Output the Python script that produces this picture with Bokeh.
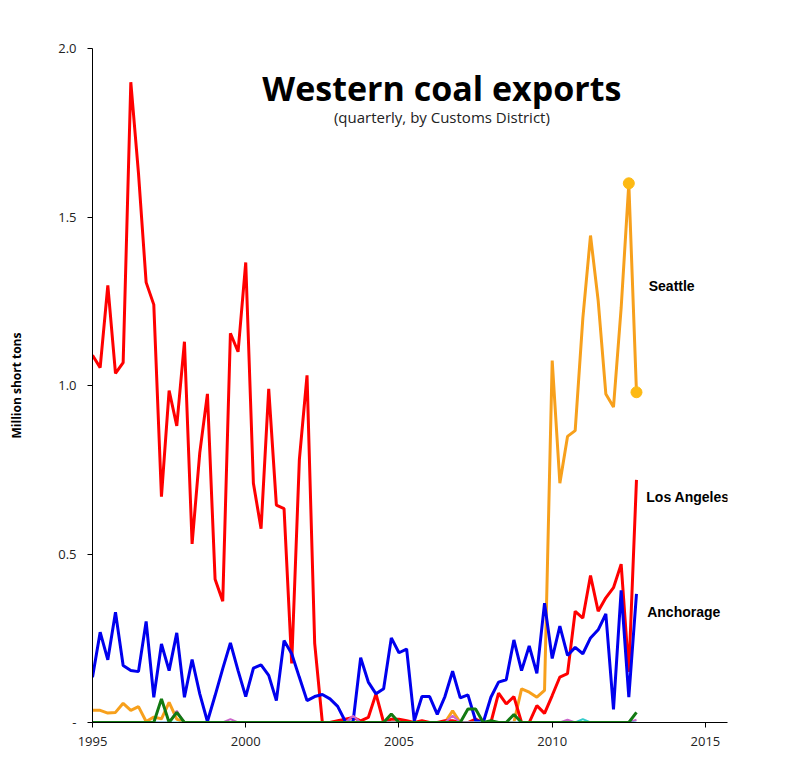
from bokeh.plotting import figure
from bokeh.models import Range1d, FixedTicker, Label
from bokeh.core.properties import value
from bokeh.embed import file_html
from bokeh.resources import INLINE

# quarterly positions 1995 Q1 .. 2012 Q4
years = list(range(1995, 2013))
quarter_x = [y + q / 4 for y in years for q in range(4)]

# Million short tons, one row per year (Q1..Q4)
seattle = [
    0.036, 0.036, 0.028, 0.030,   # 1995
    0.057, 0.036, 0.047, 0.003,   # 1996
    0.016, 0.011, 0.060, 0.010,   # 1997
    0.0, 0.0, 0.0, 0.0,           # 1998
    0.0, 0.0, 0.0, 0.0,           # 1999
    0.0, 0.0, 0.0, 0.0,           # 2000
    0.0, 0.0, 0.0, 0.0,           # 2001
    0.0, 0.0, 0.0, 0.0,           # 2002
    0.0, 0.0, 0.0, 0.0,           # 2003
    0.0, 0.0, 0.0, 0.0,           # 2004
    0.0, 0.0, 0.0, 0.0,           # 2005
    0.0, 0.0, 0.0, 0.035,         # 2006
    0.0, 0.0, 0.0, 0.0,           # 2007
    0.0, 0.0, 0.0, 0.0,           # 2008
    0.100, 0.090, 0.075, 0.095,   # 2009
    1.074, 0.710, 0.849, 0.866,   # 2010
    1.200, 1.445, 1.252, 0.975,   # 2011
    0.936, 1.230, 1.600, 0.980,   # 2012
]

los_angeles = [
    1.090, 1.053, 1.297, 1.036,   # 1995
    1.068, 1.900, 1.630, 1.306,   # 1996
    1.240, 0.670, 0.985, 0.880,   # 1997
    1.130, 0.530, 0.800, 0.975,   # 1998
    0.425, 0.360, 1.155, 1.100,   # 1999
    1.365, 0.710, 0.575, 0.990,   # 2000
    0.645, 0.635, 0.175, 0.780,   # 2001
    1.030, 0.235, 0.0, 0.0,       # 2002
    0.005, 0.010, 0.015, 0.005,   # 2003
    0.015, 0.085, 0.0, 0.010,     # 2004
    0.010, 0.005, 0.0, 0.005,     # 2005
    0.0, 0.0, 0.005, 0.005,       # 2006
    0.0, 0.0, 0.010, 0.0,         # 2007
    0.0, 0.087, 0.055, 0.077,     # 2008
    0.0, 0.0, 0.050, 0.027,       # 2009
    0.080, 0.135, 0.145, 0.330,   # 2010
    0.310, 0.436, 0.330, 0.370,   # 2011
    0.400, 0.470, 0.150, 0.720,   # 2012
]

anchorage = [
    0.134, 0.268, 0.186, 0.327,   # 1995
    0.169, 0.154, 0.151, 0.300,   # 1996
    0.075, 0.233, 0.154, 0.266,   # 1997
    0.075, 0.187, 0.085, 0.003,   # 1998
    0.080, 0.160, 0.236, 0.154,   # 1999
    0.077, 0.161, 0.171, 0.140,   # 2000
    0.065, 0.243, 0.204, 0.134,   # 2001
    0.065, 0.077, 0.083, 0.070,   # 2002
    0.048, 0.003, 0.0, 0.192,     # 2003
    0.120, 0.085, 0.100, 0.251,   # 2004
    0.207, 0.218, 0.005, 0.077,   # 2005
    0.077, 0.024, 0.077, 0.152,   # 2006
    0.073, 0.082, 0.006, 0.0,     # 2007
    0.075, 0.120, 0.127, 0.245,   # 2008
    0.154, 0.227, 0.146, 0.354,   # 2009
    0.190, 0.286, 0.199, 0.223,   # 2010
    0.204, 0.251, 0.275, 0.322,   # 2011
    0.039, 0.392, 0.075, 0.382,   # 2012
]

other_green = [
    0.0, 0.0, 0.0, 0.0,           # 1995
    0.0, 0.0, 0.0, 0.0,           # 1996
    0.0, 0.070, 0.0, 0.030,       # 1997
    0.0, 0.0, 0.0, 0.0,           # 1998
    0.0, 0.0, 0.0, 0.0,           # 1999
    0.0, 0.0, 0.0, 0.0,           # 2000
    0.0, 0.0, 0.0, 0.0,           # 2001
    0.0, 0.0, 0.0, 0.0,           # 2002
    0.0, 0.0, 0.0, 0.0,           # 2003
    0.0, 0.0, 0.0, 0.025,         # 2004
    0.0, 0.0, 0.0, 0.0,           # 2005
    0.0, 0.0, 0.0, 0.0,           # 2006
    0.0, 0.040, 0.040, 0.0,       # 2007
    0.005, 0.0, 0.0, 0.024,       # 2008
    0.0, 0.0, 0.0, 0.0,           # 2009
    0.0, 0.0, 0.0, 0.0,           # 2010
    0.0, 0.0, 0.0, 0.0,           # 2011
    0.0, 0.0, 0.0, 0.030,         # 2012
]

other_pink = [
    0.0, 0.0, 0.0, 0.0,           # 1995
    0.0, 0.0, 0.0, 0.0,           # 1996
    0.0, 0.0, 0.0, 0.035,         # 1997
    0.0, 0.0, 0.0, 0.0,           # 1998
    0.0, 0.0, 0.010, 0.0,         # 1999
    0.0, 0.0, 0.0, 0.0,           # 2000
    0.0, 0.0, 0.0, 0.0,           # 2001
    0.0, 0.0, 0.0, 0.0,           # 2002
    0.0, 0.0, 0.020, 0.0,         # 2003
    0.0, 0.0, 0.0, 0.0,           # 2004
    0.0, 0.0, 0.0, 0.0,           # 2005
    0.0, 0.0, 0.0, 0.020,         # 2006
    0.0, 0.0, 0.0, 0.0,           # 2007
    0.0, 0.0, 0.0, 0.0,           # 2008
    0.0, 0.0, 0.0, 0.0,           # 2009
    0.0, 0.0, 0.008, 0.0,         # 2010
    0.0, 0.0, 0.0, 0.0,           # 2011
    0.0, 0.0, 0.0, 0.008,         # 2012
]

other_cyan = [0.0] * 64 + [0.010] + [0.0] * 7

x_ticks = [1995, 2000, 2005, 2010, 2015]
y_ticks = [0, 0.5, 1.0, 1.5, 2.0]
y_tick_labels = {0: "-", 0.5: "0.5", 1: "1.0", 1.5: "1.5", 2: "2.0"}

district_names = ["Seattle", "Los Angeles", "Anchorage"]

p = figure(frame_width=635, frame_height=674,
           min_border_left=92, min_border_right=40,
           min_border_top=48, min_border_bottom=40,
           x_range=Range1d(1995, 2015.72), y_range=Range1d(0, 2.0),
           output_backend="svg", toolbar_location=None,
           background_fill_color="white", border_fill_color="white")
p.outline_line_color = None
p.xgrid.visible = False
p.ygrid.visible = False

for ax in (p.xaxis[0], p.yaxis[0]):
    ax.axis_line_color = "black"
    ax.axis_line_width = 1
    ax.major_tick_line_color = "black"
    ax.major_tick_in = 0
    ax.major_tick_out = 5
    ax.minor_tick_line_color = None
    ax.major_label_text_font = "Open Sans"
    ax.major_label_text_font_size = "13px"
    ax.major_label_text_color = "#222222"

p.xaxis.ticker = FixedTicker(ticks=x_ticks)
p.xaxis.major_label_standoff = 9
p.yaxis.ticker = FixedTicker(ticks=y_ticks)
p.yaxis.major_label_overrides = y_tick_labels
p.yaxis.major_label_standoff = 11
p.yaxis.axis_label = "Million short tons"
p.yaxis.axis_label_text_font = "Open Sans"
p.yaxis.axis_label_text_font_style = "bold"
p.yaxis.axis_label_text_font_size = "12px"
p.yaxis.axis_label_text_color = "black"
p.yaxis.axis_label_standoff = 30

orange = "#f7a01c"
p.line(quarter_x, seattle, line_color=orange, line_width=3)
p.line(quarter_x, los_angeles, line_color="#ff0000", line_width=3)
p.line(quarter_x, anchorage, line_color="#0000ee", line_width=3)
p.line(quarter_x, other_pink, line_color="#cc66cc", line_width=2)
p.line(quarter_x, other_cyan, line_color="#33cccc", line_width=2)
p.line(quarter_x, other_green, line_color="#127a12", line_width=3)
p.scatter(quarter_x[-2:], seattle[-2:], size=11, color="#fdb913")

p.text(x=[2006.4], y=[1.882], text=["Western coal exports"],
       text_font=value("Open Sans"), text_font_style="bold",
       text_font_size="34px", text_align="center",
       text_baseline="alphabetic", text_color="black")
p.text(x=[2006.4], y=[1.796], text=["(quarterly, by Customs District)"],
       text_font=value("Open Sans"), text_font_size="15px",
       text_align="center", text_baseline="middle", text_color="#222222")

for name, lx, ly in zip(district_names, [2013.15, 2013.07, 2013.1],
                        [1.294, 0.669, 0.327]):
    p.add_layout(Label(x=lx, y=ly, text=name, text_font="Liberation Sans",
                       text_font_style="bold", text_font_size="14px",
                       text_baseline="middle", text_color="black"))

open("out.html", "w").write(file_html(p, INLINE))
